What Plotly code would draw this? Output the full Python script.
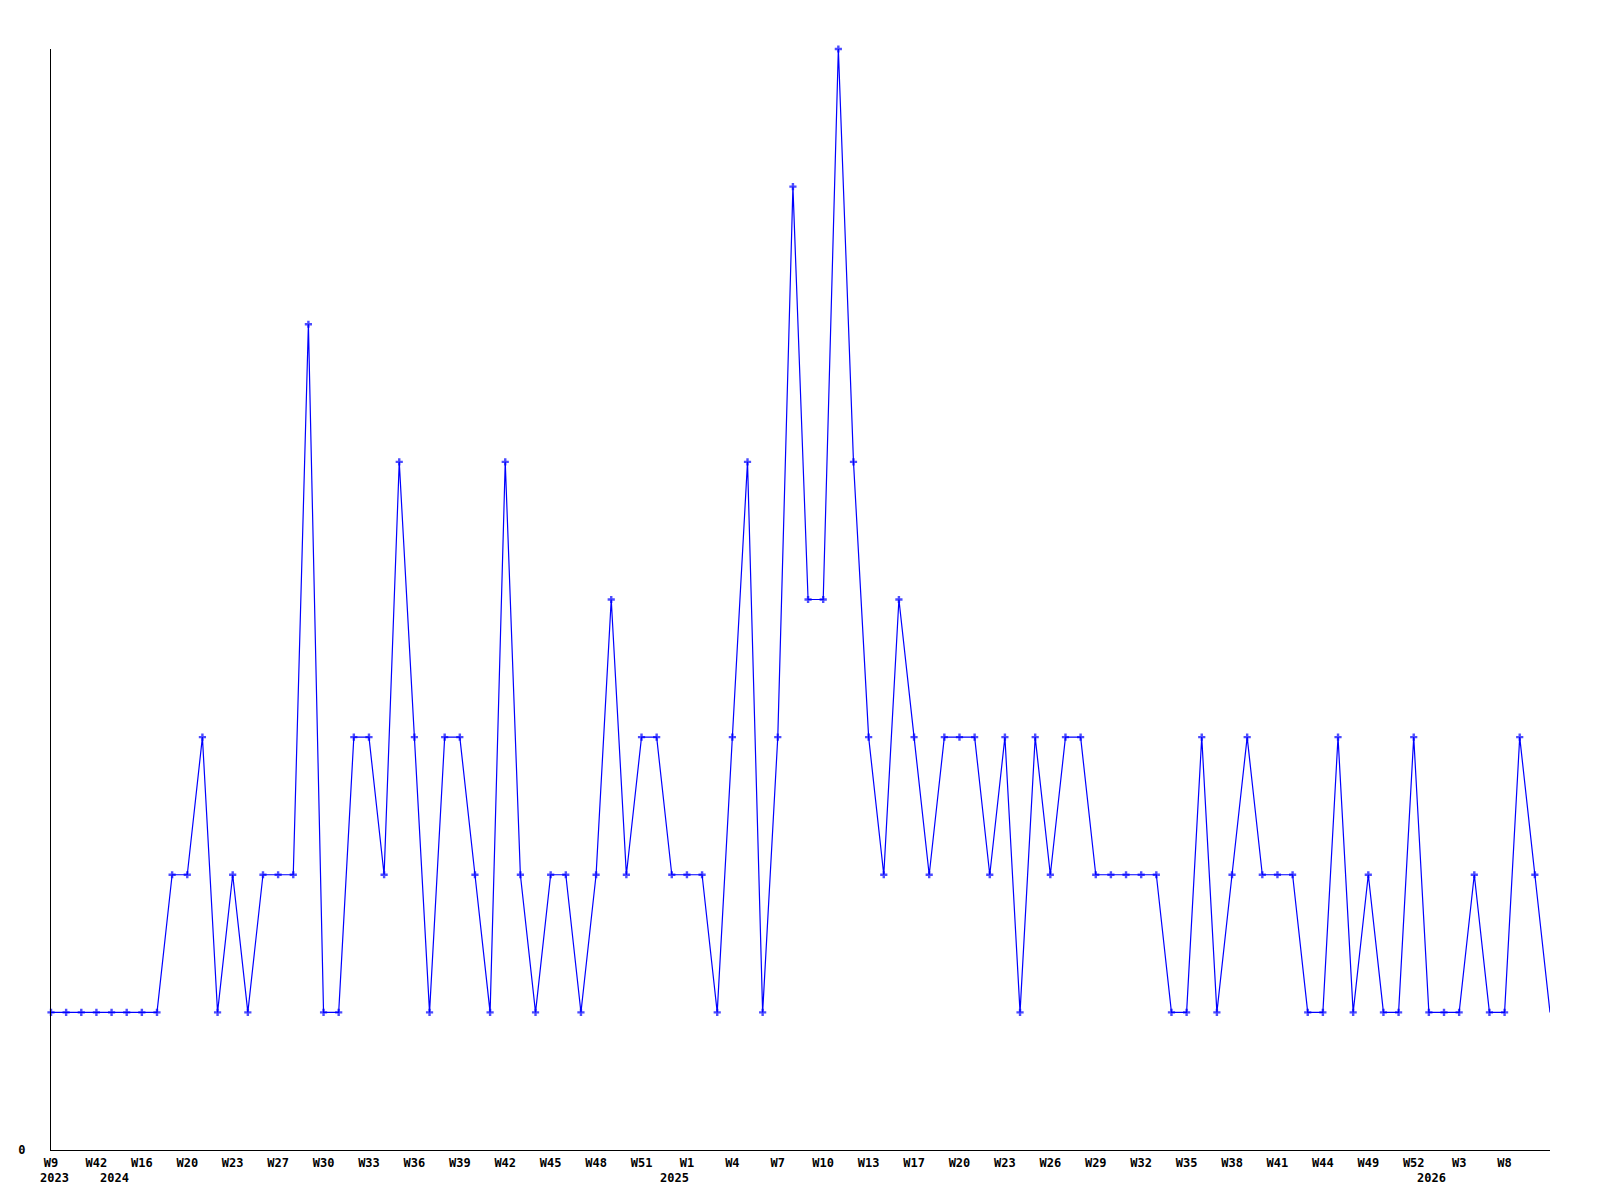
import plotly.graph_objects as go

# Series values (one per week point, in order)
values = [1, 1, 1, 1, 1, 1, 1, 1, 2, 2,
          3, 1, 2, 1, 2, 2, 2, 6, 1, 1,
          3, 3, 2, 5, 3, 1, 3, 3, 2, 1,
          5, 2, 1, 2, 2, 1, 2, 4, 2, 3,
          3, 2, 2, 2, 1, 3, 5, 1, 3, 7,
          4, 4, 8, 5, 3, 2, 4, 3, 2, 3,
          3, 3, 2, 3, 1, 3, 2, 3, 3, 2,
          2, 2, 2, 2, 1, 1, 3, 1, 2, 3,
          2, 2, 2, 1, 1, 3, 1, 2, 1, 1,
          3, 1, 1, 1, 2, 1, 1, 3, 2, 1]

# Tick labels, one every third point
tick_labels = ["W9", "W42", "W16", "W20", "W23", "W27", "W30", "W33", "W36", "W39",
               "W42", "W45", "W48", "W51", "W1", "W4", "W7", "W10", "W13", "W17",
               "W20", "W23", "W26", "W29", "W32", "W35", "W38", "W41", "W44", "W49",
               "W52", "W3", "W8"]
tick_step = 3

# Year labels and the point position they sit under
year_labels = ["2023", "2024", "2025", "2026"]
year_positions = [0.2, 4.2, 41.2, 91.2]

x = list(range(len(values)))
tickvals = [i * tick_step for i in range(len(tick_labels))]

FONT = dict(family="DejaVu Sans Mono", size=12, color="black", weight="bold")
BLUE = "#0000FF"

marker_sizes = [6] * (len(values) - 1) + [0]

fig = go.Figure()
fig.add_trace(go.Scatter(
    x=x, y=values, mode="lines+markers",
    line=dict(color=BLUE, width=1.2),
    marker=dict(symbol="cross", size=marker_sizes, color=BLUE, line=dict(width=0)),
    cliponaxis=False, showlegend=False, hoverinfo="x+y",
))

for lab, pos in zip(year_labels, year_positions):
    fig.add_annotation(x=pos, y=0, xref="x", yref="y", text=lab, showarrow=False,
                       yanchor="top", yshift=-19, font=FONT)

fig.update_layout(
    width=1600, height=1200,
    margin=dict(l=43, r=58, t=41, b=58),
    paper_bgcolor="white", plot_bgcolor="white",
    showlegend=False,
)
fig.update_xaxes(
    range=[0, len(values) - 1], tickmode="array", tickvals=tickvals, ticktext=tick_labels,
    showgrid=False, zeroline=False, showline=True, linecolor="black", linewidth=1,
    ticks="", tickfont=FONT, ticklabelstandoff=2, automargin=False,
)
fig.update_yaxes(
    range=[0, 8], tickmode="array", tickvals=[0], ticktext=["0"],
    showgrid=False, zeroline=False, showline=True, linecolor="black", linewidth=1,
    ticks="", tickfont=FONT, ticklabelstandoff=22, automargin=False,
)

fig.write_html("out.html")
